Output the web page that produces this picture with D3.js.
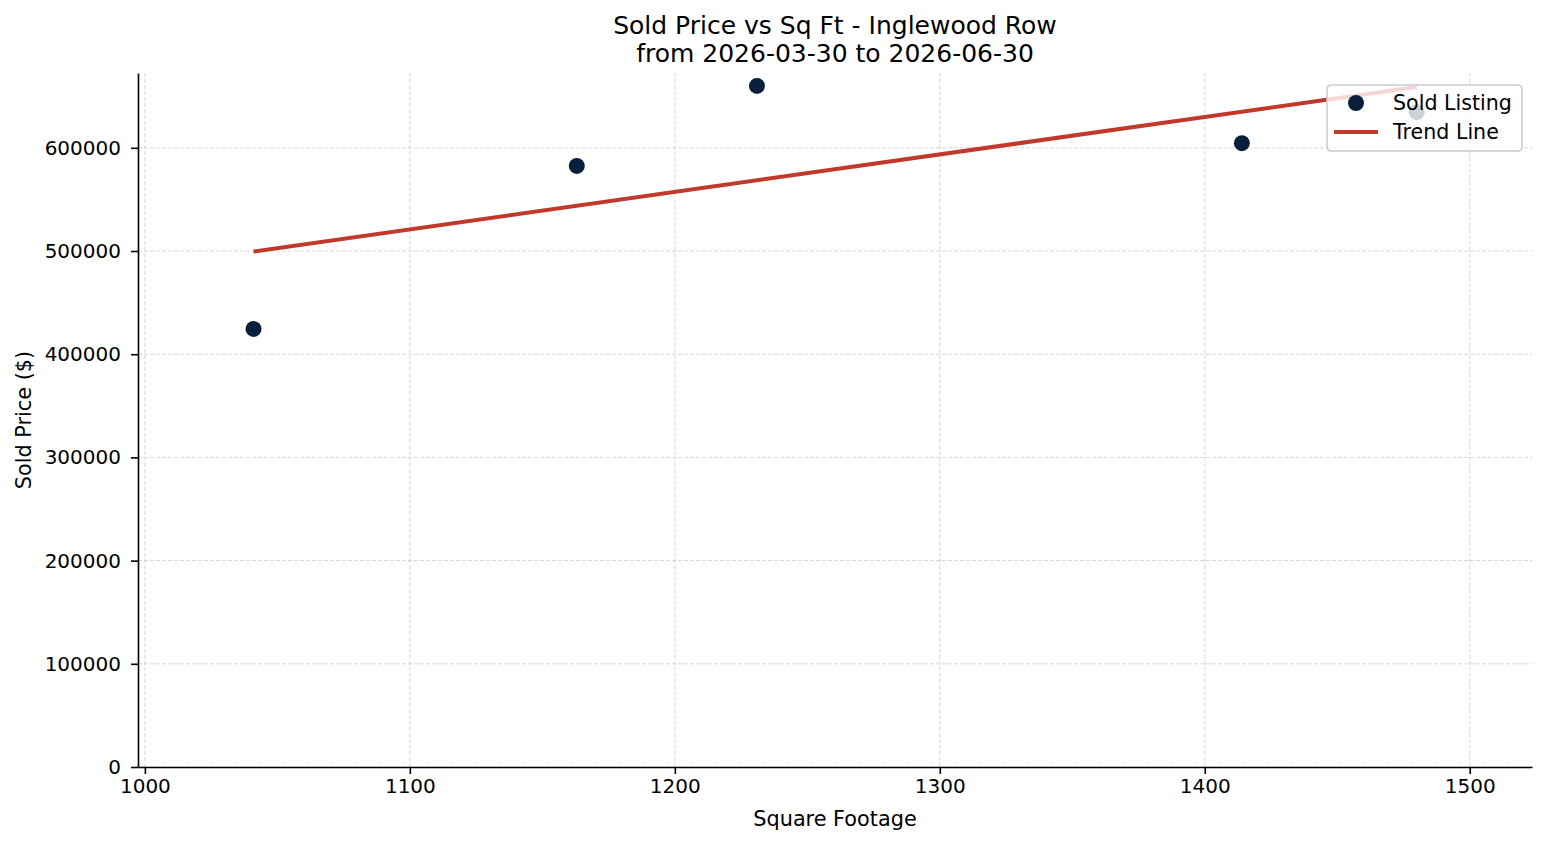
<!DOCTYPE html>
<html>
<head>
<meta charset="utf-8">
<script src="https://cdn.jsdelivr.net/npm/d3@7"></script>
<style>
  body { margin: 0; background: #fff; }
  svg { font-family: "DejaVu Sans", sans-serif; }
</style>
</head>
<body>
<div id="chart"></div>
<script>
// sold listings
const sqft = [1041, 1163, 1231, 1414, 1480];
const price = [424500, 582500, 660000, 604500, 634500];
// trend line end points
const trendX = [1041, 1480];
const trendY = [499500, 659000];
const xTicks = [1000, 1100, 1200, 1300, 1400, 1500];
const yTicks = [0, 100000, 200000, 300000, 400000, 500000, 600000];

const width = 1547;
const height = 845;
const margin = { top: 73, right: 15, bottom: 78, left: 138 };

const dotColor = "#0a1f3c";
const lineColor = "#c0392b";

const svg = d3.select("#chart")
  .append("svg")
  .attr("width", width)
  .attr("height", height);

const x = d3.scaleLinear()
  .domain([997.4, 1523.5])
  .range([margin.left, width - margin.right]);

const y = d3.scaleLinear()
  .domain([0, 672500])
  .range([height - margin.bottom, margin.top]);

// grid
const grid = svg.append("g")
  .attr("stroke", "#b0b0b0")
  .attr("stroke-opacity", 0.5)
  .attr("stroke-width", 1)
  .attr("stroke-dasharray", "4,2");
grid.selectAll(".vg")
  .data(xTicks)
  .join("line")
    .attr("x1", d => x(d)).attr("x2", d => x(d))
    .attr("y1", margin.top).attr("y2", height - margin.bottom);
grid.selectAll(".hg")
  .data(yTicks)
  .join("line")
    .attr("y1", d => y(d)).attr("y2", d => y(d))
    .attr("x1", margin.left).attr("x2", width - margin.right);

// axes
function xAxis(g) {
  g.attr("transform", `translate(0,${height - margin.bottom})`)
    .call(d3.axisBottom(x).tickValues(xTicks).tickFormat(d3.format("d")).tickSize(7).tickSizeOuter(0).tickPadding(5))
    .attr("font-size", "20px")
    .attr("font-family", "DejaVu Sans");
  g.select(".domain").attr("stroke", "#000").attr("stroke-width", 1.6);
  g.selectAll(".tick line").attr("stroke-width", 1.6);
}
function yAxis(g) {
  g.attr("transform", `translate(${margin.left},0)`)
    .call(d3.axisLeft(y).tickValues(yTicks).tickFormat(d3.format("d")).tickSize(7).tickSizeOuter(0).tickPadding(10))
    .attr("font-size", "20px")
    .attr("font-family", "DejaVu Sans");
  g.select(".domain").attr("stroke", "#000").attr("stroke-width", 1.6);
  g.selectAll(".tick line").attr("stroke-width", 1.6);
}
svg.append("g").call(xAxis);
svg.append("g").call(yAxis);

// trend line
const line = d3.line()
  .x(d => x(d[0]))
  .y(d => y(d[1]));
svg.append("path")
  .datum(d3.zip(trendX, trendY))
  .attr("fill", "none")
  .attr("stroke", lineColor)
  .attr("stroke-width", 4)
  .attr("d", line);

// points
svg.append("g")
  .attr("fill", dotColor)
  .selectAll("circle")
  .data(d3.zip(sqft, price))
  .join("circle")
    .attr("cx", d => x(d[0]))
    .attr("cy", d => y(d[1]))
    .attr("r", 8);

// labels
svg.append("text")
  .attr("x", (margin.left + width - margin.right) / 2)
  .attr("y", 826)
  .attr("text-anchor", "middle")
  .attr("font-size", "20.8px")
  .text("Square Footage");

svg.append("text")
  .attr("transform", `translate(31,${(margin.top + height - margin.bottom) / 2}) rotate(-90)`)
  .attr("text-anchor", "middle")
  .attr("font-size", "20.8px")
  .text("Sold Price ($)");

const title = svg.append("text")
  .attr("text-anchor", "middle")
  .attr("font-size", "25px");
title.append("tspan").attr("x", (margin.left + width - margin.right) / 2).attr("y", 34)
  .text("Sold Price vs Sq Ft - Inglewood Row");
title.append("tspan").attr("x", (margin.left + width - margin.right) / 2).attr("y", 62)
  .text("from 2026-03-30 to 2026-06-30");

// legend
const legend = svg.append("g").attr("transform", "translate(1327,85)");
legend.append("rect")
  .attr("width", 195).attr("height", 66)
  .attr("rx", 4)
  .attr("fill", "#fff").attr("fill-opacity", 0.8)
  .attr("stroke", "#cccccc").attr("stroke-width", 1.6);
legend.append("circle")
  .attr("cx", 29).attr("cy", 18).attr("r", 8)
  .attr("fill", dotColor);
legend.append("line")
  .attr("x1", 7).attr("x2", 51)
  .attr("y1", 47).attr("y2", 47)
  .attr("stroke", lineColor).attr("stroke-width", 4);
legend.append("text")
  .attr("x", 66).attr("y", 25)
  .attr("font-size", "20.6px")
  .text("Sold Listing");
legend.append("text")
  .attr("x", 66).attr("y", 54)
  .attr("font-size", "20.6px")
  .text("Trend Line");
</script>
</body>
</html>
